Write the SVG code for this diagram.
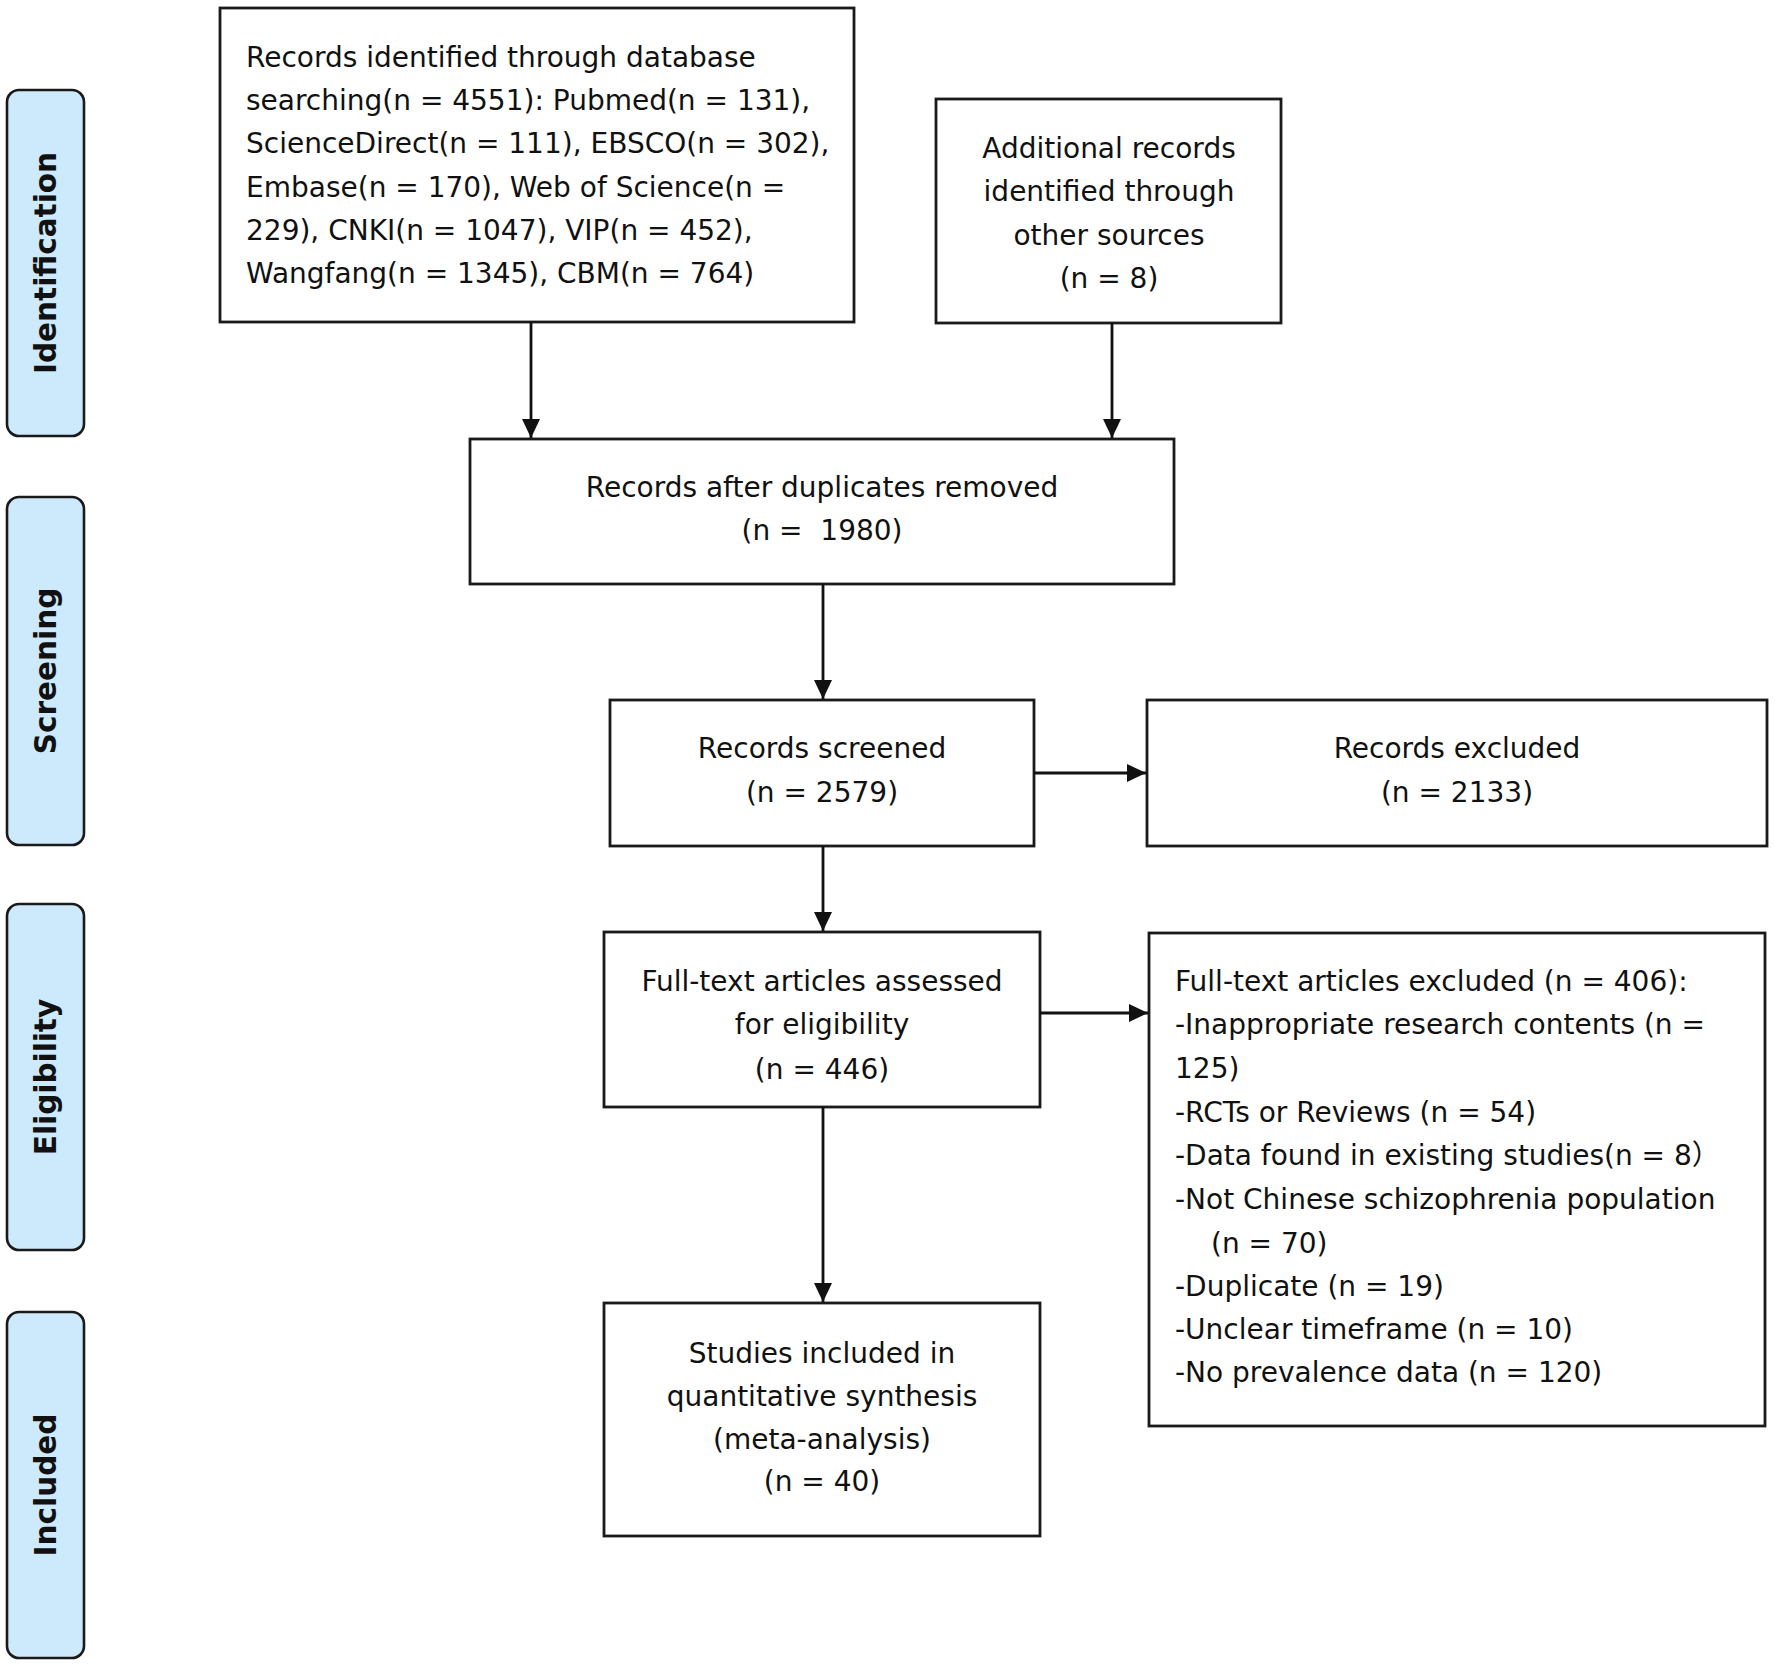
<svg xmlns="http://www.w3.org/2000/svg" width="1775" height="1667" viewBox="0 0 1775 1667">
<style>
.box{fill:#ffffff;stroke:#1a1a1a;stroke-width:2.8}
.lane{fill:#cdeafc;stroke:#1a1a1a;stroke-width:2.6}
.t{font-family:"DejaVu Sans","Noto Sans CJK SC",sans-serif;font-size:28px;fill:#111111}
.c{text-anchor:middle}
.lbl{font-family:"DejaVu Sans",sans-serif;font-weight:bold;font-size:29.5px;fill:#111111;text-anchor:middle}
.conn{stroke:#111111;stroke-width:2.8;fill:none;marker-end:url(#ah)}
</style>
<defs>
<marker id="ah" markerUnits="userSpaceOnUse" markerWidth="20" markerHeight="20" viewBox="0 0 20 20" refX="19" refY="10" orient="auto">
<path d="M0,1 L19,10 L0,19 Z" fill="#111111"/>
</marker>
</defs>
<rect width="1775" height="1667" fill="#ffffff"/>
<g id="lane-identification">
<rect class="lane" x="7" y="90" width="77" height="346" rx="12"/>
<text class="lbl" transform="translate(56,263) rotate(-90)">Identification</text>
</g>
<g id="lane-screening">
<rect class="lane" x="7" y="497" width="77" height="348" rx="12"/>
<text class="lbl" transform="translate(56,671) rotate(-90)">Screening</text>
</g>
<g id="lane-eligibility">
<rect class="lane" x="7" y="904" width="77" height="346" rx="12"/>
<text class="lbl" transform="translate(56,1077) rotate(-90)">Eligibility</text>
</g>
<g id="lane-included">
<rect class="lane" x="7" y="1312" width="77" height="346" rx="12"/>
<text class="lbl" transform="translate(56,1485) rotate(-90)">Included</text>
</g>
<g id="box-database">
<rect class="box" x="220" y="8" width="634" height="314"/>
<text class="t" x="246" y="67">Records identified through database</text>
<text class="t" x="246" y="110">searching(n = 4551): Pubmed(n = 131),</text>
<text class="t" x="246" y="153">ScienceDirect(n = 111), EBSCO(n = 302),</text>
<text class="t" x="246" y="197">Embase(n = 170), Web of Science(n =</text>
<text class="t" x="246" y="240">229), CNKI(n = 1047), VIP(n = 452),</text>
<text class="t" x="246" y="283">Wangfang(n = 1345), CBM(n = 764)</text>
</g>
<g id="box-additional">
<rect class="box" x="936" y="99" width="345" height="224"/>
<text class="t c" x="1109" y="158">Additional records</text>
<text class="t c" x="1109" y="201">identified through</text>
<text class="t c" x="1109" y="245">other sources</text>
<text class="t c" x="1109" y="288">(n = 8)</text>
</g>
<g id="box-duplicates">
<rect class="box" x="470" y="439" width="704" height="145"/>
<text class="t c" x="822" y="497">Records after duplicates removed</text>
<text class="t c" x="822" y="540" xml:space="preserve">(n =  1980)</text>
</g>
<g id="box-screened">
<rect class="box" x="610" y="700" width="424" height="146"/>
<text class="t c" x="822" y="758">Records screened</text>
<text class="t c" x="822" y="802">(n = 2579)</text>
</g>
<g id="box-records-excluded">
<rect class="box" x="1147" y="700" width="620" height="146"/>
<text class="t c" x="1457" y="758">Records excluded</text>
<text class="t c" x="1457" y="802">(n = 2133)</text>
</g>
<g id="box-fulltext">
<rect class="box" x="604" y="932" width="436" height="175"/>
<text class="t c" x="822" y="991">Full-text articles assessed</text>
<text class="t c" x="822" y="1034">for eligibility</text>
<text class="t c" x="822" y="1079">(n = 446)</text>
</g>
<g id="box-fulltext-excluded">
<rect class="box" x="1149" y="933" width="616" height="493"/>
<text class="t" x="1175" y="991">Full-text articles excluded (n = 406):</text>
<text class="t" x="1175" y="1034">-Inappropriate research contents (n =</text>
<text class="t" x="1175" y="1078">125)</text>
<text class="t" x="1175" y="1122">-RCTs or Reviews (n = 54)</text>
<text class="t" x="1175" y="1165">-Data found in existing studies(n = 8）</text>
<text class="t" x="1175" y="1209">-Not Chinese schizophrenia population</text>
<text class="t" x="1211" y="1253">(n = 70)</text>
<text class="t" x="1175" y="1296">-Duplicate (n = 19)</text>
<text class="t" x="1175" y="1339">-Unclear timeframe (n = 10)</text>
<text class="t" x="1175" y="1382">-No prevalence data (n = 120)</text>
</g>
<g id="box-included">
<rect class="box" x="604" y="1303" width="436" height="233"/>
<text class="t c" x="822" y="1363">Studies included in</text>
<text class="t c" x="822" y="1406">quantitative synthesis</text>
<text class="t c" x="822" y="1449">(meta-analysis)</text>
<text class="t c" x="822" y="1491">(n = 40)</text>
</g>
<g id="connectors">
<line class="conn" x1="531" y1="322" x2="531" y2="438"/>
<line class="conn" x1="1112" y1="323" x2="1112" y2="438"/>
<line class="conn" x1="823" y1="584" x2="823" y2="699"/>
<line class="conn" x1="1034" y1="773" x2="1146" y2="773"/>
<line class="conn" x1="823" y1="846" x2="823" y2="931"/>
<line class="conn" x1="1040" y1="1013" x2="1148" y2="1013"/>
<line class="conn" x1="823" y1="1107" x2="823" y2="1302"/>
</g>
</svg>
